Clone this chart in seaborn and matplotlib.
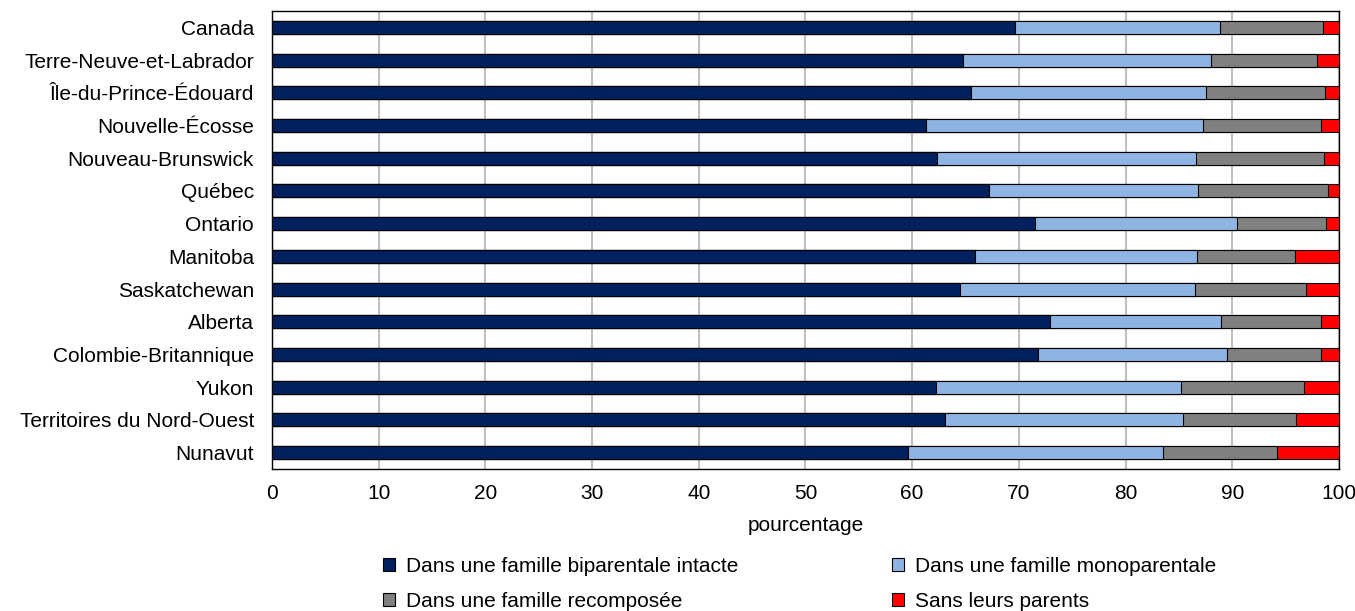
import pandas as pd
import numpy as np
import seaborn as sns
import matplotlib.pyplot as plt
from matplotlib.patches import Patch

regions = ["Canada", "Terre-Neuve-et-Labrador", "Île-du-Prince-Édouard", "Nouvelle-Écosse",
           "Nouveau-Brunswick", "Québec", "Ontario", "Manitoba", "Saskatchewan", "Alberta",
           "Colombie-Britannique", "Yukon", "Territoires du Nord-Ouest", "Nunavut"]

intacte = [69.6, 64.8, 65.5, 61.3, 62.3, 67.2, 71.5, 65.9, 64.5, 72.9, 71.8, 62.2, 63.1, 59.6]
monoparentale = [19.2, 23.2, 22.0, 26.0, 24.3, 19.6, 18.9, 20.8, 22.0, 16.0, 17.7, 23.0, 22.3, 23.9]
recomposee = [9.7, 9.9, 11.2, 11.0, 12.0, 12.2, 8.4, 9.2, 10.4, 9.4, 8.8, 11.5, 10.6, 10.7]
sans_parents = [1.5, 2.1, 1.3, 1.7, 1.4, 1.0, 1.2, 4.1, 3.1, 1.7, 1.7, 3.3, 4.0, 5.8]

labels = ["Dans une famille biparentale intacte", "Dans une famille monoparentale",
          "Dans une famille recomposée", "Sans leurs parents"]
colors = ["#002060", "#8DB4E2", "#808080", "#FF0000"]

df = pd.DataFrame({"region": regions, labels[0]: intacte, labels[1]: monoparentale,
                   labels[2]: recomposee, labels[3]: sans_parents})
cum = df[labels].cumsum(axis=1)
cum["region"] = df["region"]

sns.set_style("white")
plt.rcParams['font.family'] = ['Liberation Sans', 'DejaVu Sans']
plt.rcParams['text.color'] = 'black'
plt.rcParams['xtick.color'] = 'black'
plt.rcParams['ytick.color'] = 'black'
plt.rcParams['axes.labelcolor'] = 'black'

fs = 15

fig = plt.figure(figsize=(13.55, 6.11), dpi=100)
ax = fig.add_axes([0.2007, 0.2324, 0.7875, 0.7496])

# stacked bars: draw cumulative totals, widest first
for lab, col in reversed(list(zip(labels, colors))):
    sns.barplot(data=cum, x=lab, y="region", orient="h", color=col, saturation=1,
                width=0.4, edgecolor="black", linewidth=0.8, ax=ax, zorder=3)

ax.set_xlim(0, 100)
ax.set_ylim(len(regions) - 0.5, -0.5)
ax.set_xticks(np.arange(0, 101, 10))
ax.xaxis.grid(True, color="#C0C0C0", linewidth=1.5, zorder=0)
ax.set_axisbelow(True)
ax.set_yticks(np.arange(len(regions)))
ax.set_yticklabels(regions)
ax.set_yticks(np.arange(-0.5, len(regions), 1), minor=True)
ax.tick_params(axis="y", which="major", length=0, pad=13, labelsize=fs)
ax.tick_params(axis="y", which="minor", length=5, width=1, color="black", direction="out")
ax.tick_params(axis="x", length=0, pad=11, labelsize=fs)
ax.set_ylabel("")
ax.set_xlabel("pourcentage", fontsize=fs, labelpad=9)
for s in ax.spines.values():
    s.set_visible(True)
    s.set_color("black")
    s.set_linewidth(1)

handles = [Patch(facecolor=c, edgecolor="black", linewidth=0.8) for c in colors]
order = [0, 2, 1, 3]
fig.legend([handles[i] for i in order], [labels[i] for i in order], loc="upper left",
           bbox_to_anchor=(0.2827, 0.089), ncol=2, frameon=False, fontsize=fs,
           handlelength=0.58, handleheight=0.58, handletextpad=0.5,
           columnspacing=7.4, labelspacing=0.8, borderpad=0, borderaxespad=0)

fig.savefig("out.png", dpi=100)
